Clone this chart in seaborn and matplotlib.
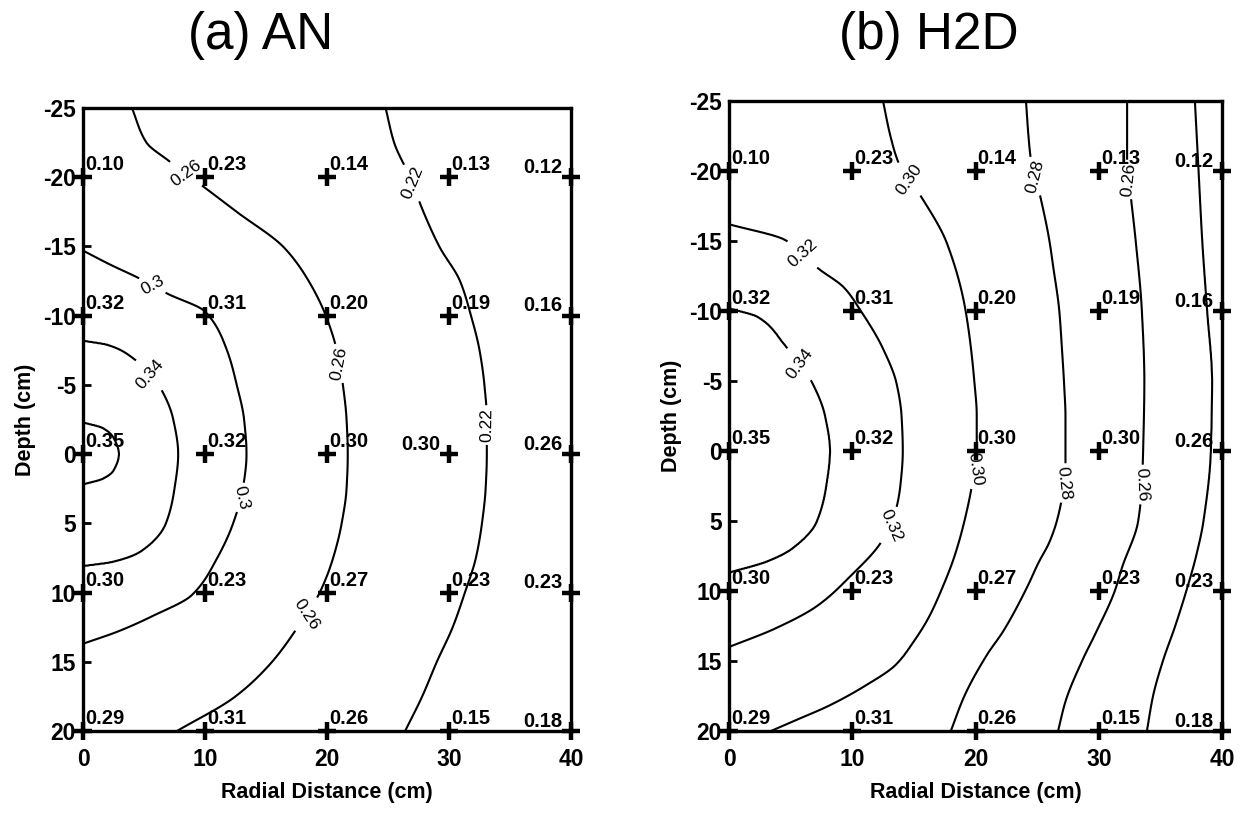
import numpy as np
import pandas as pd
import matplotlib
matplotlib.use("Agg")
import matplotlib.pyplot as plt
import seaborn as sns

sns.set_theme(style="white")
plt.rcParams["font.family"] = ["Liberation Sans", "DejaVu Sans"]
plt.rcParams.update({"text.color": "black", "axes.labelcolor": "black",
                     "xtick.color": "black", "ytick.color": "black"})

# ---------------------------------------------------------------- measured data
radial_cm = [0, 10, 20, 30, 40]
depth_cm = [-20, -10, 0, 10, 20]

# water content at each (depth row, radial column)
theta_an = [
    [0.10, 0.23, 0.14, 0.13, 0.12],
    [0.32, 0.31, 0.20, 0.19, 0.16],
    [0.35, 0.32, 0.30, 0.30, 0.26],
    [0.30, 0.23, 0.27, 0.23, 0.23],
    [0.29, 0.31, 0.26, 0.15, 0.18],
]
theta_h2d = [
    [0.10, 0.23, 0.14, 0.13, 0.12],
    [0.32, 0.31, 0.20, 0.19, 0.16],
    [0.35, 0.32, 0.30, 0.30, 0.26],
    [0.30, 0.23, 0.27, 0.23, 0.23],
    [0.29, 0.31, 0.26, 0.15, 0.18],
]

# ------------------------------------------------ simulated isolines, panel (a)
# radial distance (cm) of each isoline at the listed depths (cm)
an_labelled = [0.22, 0.26, 0.30, 0.34]
an_unlabelled = [0.38]
an_038_depth = [-2.3, -1.9, -1.2, 0.0, 1.2, 1.8, 2.2]
an_038_radial = [0.0, 1.6, 2.5, 2.95, 2.5, 1.6, 0.0]
an_034_depth = [-8.2, -7.9, -7.0, -5.0, -2.5, 0.0, 2.5, 5.0, 7.0, 7.8, 8.1]
an_034_radial = [0.0, 2.0, 4.0, 6.2, 7.4, 7.8, 7.5, 6.8, 4.8, 2.4, 0.0]
an_030_depth = [-14.7, -13.7, -12.7, -11.6, -10.3, -7.5, -5.0, -2.5, 0.0,
                2.5, 5.0, 7.5, 10.2, 11.7, 12.8, 13.7]
an_030_radial = [0.0, 2.2, 4.6, 6.9, 10.0, 11.8, 12.6, 13.2, 13.4,
                 13.1, 12.3, 11.0, 8.9, 5.7, 2.9, 0.0]
an_026_depth = [-25.0, -22.5, -21.2, -19.3, -17.5, -14.9, -12.5, -10.0, -7.5,
                -5.0, -2.5, 0.0, 2.5, 5.0, 7.5, 10.0, 12.5, 15.0, 17.5, 20.0]
an_026_radial = [4.0, 5.2, 7.0, 9.9, 12.6, 16.5, 18.5, 19.9, 20.8,
                 21.3, 21.6, 21.7, 21.6, 21.2, 20.5, 19.4, 17.6, 15.5, 12.5, 7.7]
an_022_depth = [-25.0, -22.5, -20.0, -17.5, -15.0, -12.5, -10.0, -7.5, -5.0,
                -2.5, 0.0, 2.5, 5.0, 7.5, 10.0, 12.5, 15.0, 17.5, 20.0]
an_022_radial = [24.8, 25.5, 26.8, 27.9, 29.2, 30.9, 31.8, 32.5, 32.9,
                 33.1, 33.1, 33.0, 32.7, 32.2, 31.3, 30.3, 29.0, 27.8, 26.4]
an_edge_depth = [-25.0, -14.7, -8.2, -2.3, 0.0, 2.2, 8.1, 13.7, 20.0]
an_edge_value = [0.278, 0.30, 0.34, 0.38, 0.39, 0.38, 0.34, 0.30, 0.285]
an_far_value = 0.20

# ------------------------------------------------ simulated isolines, panel (b)
h2d_labelled = [0.26, 0.28, 0.30, 0.32, 0.34]
h2d_unlabelled = [0.24]
h2d_034_depth = [-10.2, -9.6, -7.6, -4.8, -2.5, 0.0, 2.5, 5.1, 7.0, 7.9, 8.7]
h2d_034_radial = [0.0, 2.3, 4.5, 6.8, 7.8, 8.2, 7.9, 7.1, 5.1, 3.1, 0.0]
h2d_032_depth = [-16.2, -15.1, -13.0, -11.7, -10.0, -7.3, -4.8, -2.5, 0.0,
                 2.5, 5.2, 6.7, 8.9, 11.1, 12.7, 14.0]
h2d_032_radial = [0.0, 4.5, 7.3, 9.3, 10.7, 12.5, 13.6, 14.0, 14.1,
                  13.9, 13.2, 12.2, 9.9, 7.1, 3.7, 0.0]
h2d_030_depth = [-25.0, -22.5, -20.5, -18.3, -14.8, -10.0, -5.0, -2.5, 0.0,
                 2.5, 5.0, 7.5, 10.0, 11.9, 13.6, 15.3, 16.8, 18.2, 19.2, 20.0]
h2d_030_radial = [12.5, 13.1, 13.8, 15.5, 17.7, 19.2, 19.9, 20.1, 20.1,
                  19.7, 19.1, 18.3, 17.2, 16.2, 15.0, 13.5, 11.0, 8.1, 5.5, 3.4]
h2d_028_depth = [-25.0, -22.5, -20.8, -18.4, -15.0, -13.2, -10.0, -7.5, -4.6,
                 -2.5, 0.0, 1.2, 3.4, 5.0, 6.5, 8.0, 9.7, 12.8, 14.6, 17.5, 20.0]
h2d_028_radial = [24.1, 24.3, 24.5, 25.2, 26.0, 26.3, 26.8, 27.0, 27.2,
                  27.3, 27.3, 27.3, 27.0, 26.6, 26.0, 25.1, 24.2, 22.3, 20.9, 19.1, 18.0]
h2d_026_depth = [-25.0, -20.6, -18.2, -15.0, -10.0, -5.0, 0.0, 2.5, 5.0,
                 8.3, 10.0, 13.1, 14.9, 17.9, 20.0]
h2d_026_radial = [32.3, 32.3, 32.6, 33.0, 33.5, 33.7, 33.6, 33.5, 33.2,
                  31.9, 31.3, 29.7, 28.7, 27.3, 26.7]
h2d_024_depth = [-25.0, -20.0, -15.0, -10.0, -5.0, 0.0, 5.0, 7.5, 10.0,
                 12.5, 15.0, 17.5, 20.0]
h2d_024_radial = [37.8, 38.1, 38.4, 38.8, 39.2, 39.1, 38.5, 37.9, 37.1,
                  36.2, 35.2, 34.4, 33.9]
h2d_edge_depth = [-25.0, -16.2, -10.2, -1.0, 8.7, 14.0, 20.0]
h2d_edge_value = [0.312, 0.32, 0.34, 0.352, 0.34, 0.32, 0.305]
h2d_far_value = 0.232

# contour label anchor points (radial, depth)
an_label_pos = [(8.4, -20.2), (20.7, -6.5), (18.7, 11.8), (5.7, -12.2),
                (13.2, 3.2), (5.8, -6.0), (27.0, -19.6), (33.1, -2.1)]
h2d_label_pos = [(14.6, -19.4), (19.8, 1.3), (5.9, -14.0), (13.0, 5.3),
                 (5.7, -6.2), (24.7, -19.6), (27.3, 2.3), (32.5, -19.4),
                 (33.6, 2.4)]

# points whose value is written on the left of the marker
an_left_text = [(40, -20), (40, -10), (40, 0), (40, 10), (40, 20), (30, 0)]
h2d_left_text = [(40, -20), (40, -10), (40, 0), (40, 10), (40, 20)]

x_ticks = [0, 10, 20, 30, 40]
y_ticks = [-25, -20, -15, -10, -5, 0, 5, 10, 15, 20]
y_tick_labels = ["-25", "-20", "-15", "-10", "-5", "0", "5", "10", "15", "20"]


def pchip(xk, yk, x):
    """Shape-preserving cubic through (xk, yk), evaluated at x."""
    xk = np.asarray(xk, float)
    yk = np.asarray(yk, float)
    h = np.diff(xk)
    d = np.diff(yk) / h
    m = np.empty_like(yk)
    m[0], m[-1] = d[0], d[-1]
    for k in range(1, len(xk) - 1):
        if d[k - 1] * d[k] <= 0:
            m[k] = 0.0
        else:
            w1 = 2 * h[k] + h[k - 1]
            w2 = h[k] + 2 * h[k - 1]
            m[k] = (w1 + w2) / (w1 / d[k - 1] + w2 / d[k])
    x = np.atleast_1d(np.asarray(x, float))
    idx = np.clip(np.searchsorted(xk, x) - 1, 0, len(xk) - 2)
    t = (x - xk[idx]) / h[idx]
    h00 = 2 * t**3 - 3 * t**2 + 1
    h10 = t**3 - 2 * t**2 + t
    h01 = -2 * t**3 + 3 * t**2
    h11 = t**3 - t**2
    return (h00 * yk[idx] + h10 * h[idx] * m[idx]
            + h01 * yk[idx + 1] + h11 * h[idx] * m[idx + 1])


def build_field(isolines, edge_depth, edge_value, far_value, xs, ys):
    """Grid whose iso-contours follow the given isoline positions."""
    left = np.interp(ys, edge_depth, edge_value)
    curves = {}
    for lev, (d, r) in isolines.items():
        inside = (ys >= d[0]) & (ys <= d[-1])
        g = np.full(len(ys), np.nan)
        g[inside] = pchip(d, r, ys[inside])
        curves[lev] = g
    z = np.empty((len(ys), len(xs)))
    order = sorted(isolines, reverse=True)
    for i in range(len(ys)):
        kx, kv = [0.0], [left[i]]
        for lev in order:
            g = curves[lev][i]
            if np.isfinite(g) and g > kx[-1] + 1e-3:
                kx.append(float(g))
                kv.append(lev)
        kx.append(40.0)
        kv.append(far_value)
        z[i] = np.interp(xs, kx, kv)
    return z


xs = np.linspace(0, 40, 801)
ys = np.linspace(-25, 20, 901)

an_iso = {0.38: (an_038_depth, an_038_radial), 0.34: (an_034_depth, an_034_radial),
          0.30: (an_030_depth, an_030_radial), 0.26: (an_026_depth, an_026_radial),
          0.22: (an_022_depth, an_022_radial)}
h2d_iso = {0.34: (h2d_034_depth, h2d_034_radial), 0.32: (h2d_032_depth, h2d_032_radial),
           0.30: (h2d_030_depth, h2d_030_radial), 0.28: (h2d_028_depth, h2d_028_radial),
           0.26: (h2d_026_depth, h2d_026_radial), 0.24: (h2d_024_depth, h2d_024_radial)}

z_an = build_field(an_iso, an_edge_depth, an_edge_value, an_far_value, xs, ys)
z_h2d = build_field(h2d_iso, h2d_edge_depth, h2d_edge_value, h2d_far_value, xs, ys)


def points_frame(theta):
    rows = []
    for i, d in enumerate(depth_cm):
        for j, r in enumerate(radial_cm):
            rows.append({"radial": r, "depth": d, "theta": theta[i][j]})
    return pd.DataFrame(rows)


fig = plt.figure(figsize=(12.44, 8.14), dpi=100)
W, H = 1244, 814
ax_a = fig.add_axes([83 / W, 1 - 731 / H, (571 - 83) / W, (731 - 108) / H])
ax_b = fig.add_axes([729 / W, 1 - 731 / H, (1222 - 729) / W, (731 - 101) / H])

panels = [
    (ax_a, z_an, an_labelled, an_unlabelled, an_label_pos, lambda v: f"{v:g}",
     theta_an, an_left_text),
    (ax_b, z_h2d, h2d_labelled, h2d_unlabelled, h2d_label_pos,
     lambda v: f"{v:.2f}", theta_h2d, h2d_left_text),
]

for ax, z, labelled, unlabelled, label_pos, fmt, theta, left_text in panels:
    ax.contour(xs, ys, z, levels=unlabelled, colors="black", linewidths=1.5)
    cs = ax.contour(xs, ys, z, levels=labelled, colors="black", linewidths=1.5)
    ax.clabel(cs, manual=label_pos, fmt=fmt, fontsize=12.5,
              inline=True, inline_spacing=3)

    df = points_frame(theta)
    sns.scatterplot(data=df, x="radial", y="depth", marker="+", s=185,
                    color="black", linewidth=3.2, ax=ax, clip_on=False,
                    zorder=5, legend=False)
    for _, row in df.iterrows():
        key = (row["radial"], row["depth"])
        if key in left_text:
            ax.annotate(f"{row['theta']:.2f}", (row["radial"], row["depth"]),
                        xytext=(-6, 3), textcoords="offset points",
                        ha="right", va="baseline", fontsize=14.5,
                        fontweight="bold", zorder=6, annotation_clip=False)
        else:
            ax.annotate(f"{row['theta']:.2f}", (row["radial"], row["depth"]),
                        xytext=(1.5, 5), textcoords="offset points",
                        ha="left", va="baseline", fontsize=14.5,
                        fontweight="bold", zorder=6, annotation_clip=False)

    ax.set_xlim(0, 40)
    ax.set_ylim(20, -25)
    ax.set_xticks(x_ticks)
    ax.set_xticklabels([str(t) for t in x_ticks], fontsize=16.5, fontweight="bold")
    ax.set_yticks(y_ticks)
    ax.set_yticklabels(y_tick_labels, fontsize=16.5, fontweight="bold")
    ax.tick_params(direction="in", length=6, width=2, left=True, bottom=True,
                   colors="black")
    ax.tick_params(axis="x", pad=12)
    ax.tick_params(axis="y", pad=5)
    ax.set_xlabel("Radial Distance (cm)", fontsize=15.5, fontweight="bold",
                  labelpad=8)
    ax.set_ylabel("Depth (cm)", fontsize=15.5, fontweight="bold", labelpad=5)
    for sp in ax.spines.values():
        sp.set_visible(True)
        sp.set_color("black")
        sp.set_linewidth(2.4)
    ax.grid(False)

fig.text(261 / W, 1 - 35 / H, "(a) AN", fontsize=37, ha="center", va="center")
fig.text(929 / W, 1 - 35 / H, "(b) H2D", fontsize=37, ha="center", va="center")

fig.savefig("out.png", dpi=100, facecolor="white")
